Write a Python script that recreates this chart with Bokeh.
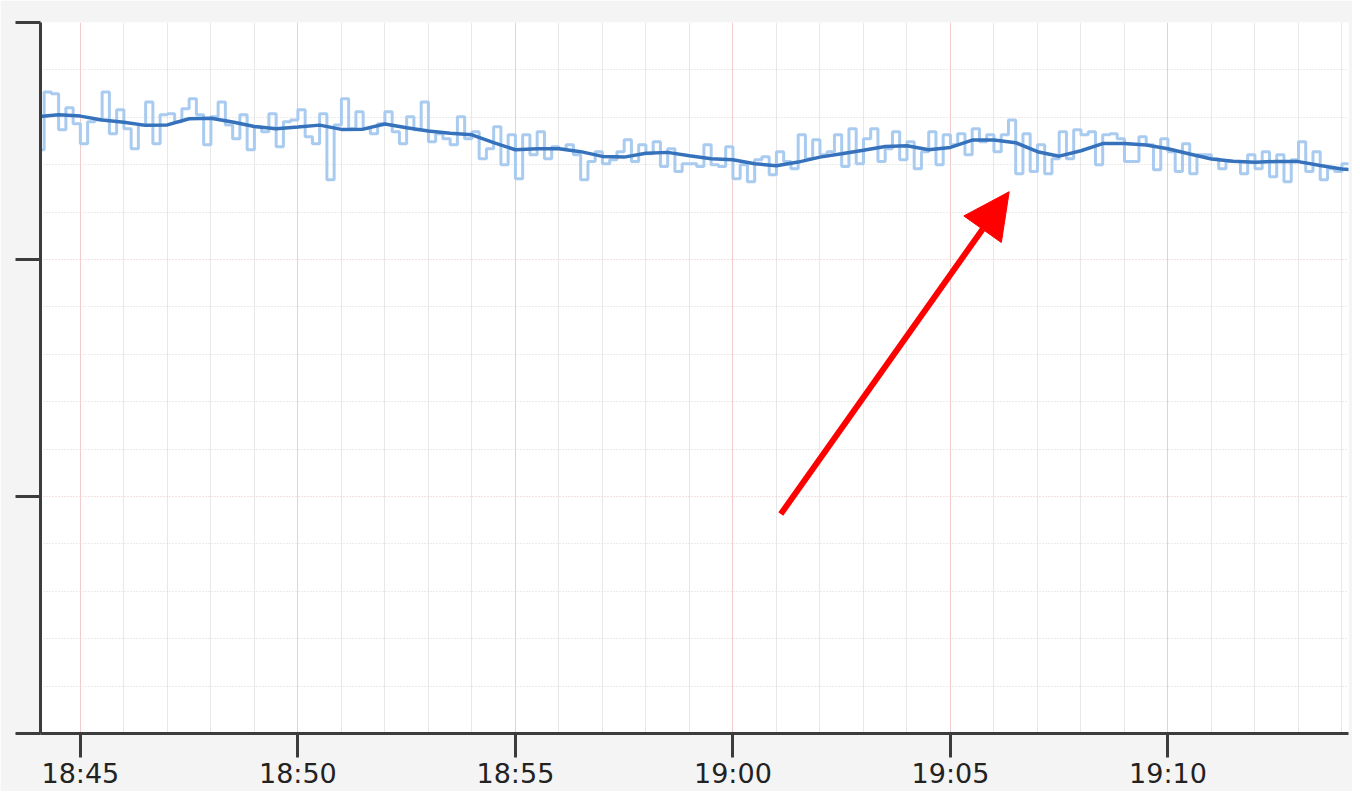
import pandas as pd
from bokeh.plotting import figure
from bokeh.models import FixedTicker, DatetimeTickFormatter, Range1d, Arrow, NormalHead, CustomJSTickFormatter
from bokeh.embed import file_html
from bokeh.resources import INLINE

DAY = "2024-01-01 "

# x-axis tick labels
tick_labels = ["18:45", "18:50", "18:55", "19:00", "19:05", "19:10"]
x_start, x_end = "18:44:05", "19:14:09"

# raw readings, one every 10 s starting 18:44:00
raw_start = "18:44:00"
raw_values = [
    24.63, 27.07, 26.99, 25.47, 26.40, 25.73, 24.88, 25.81, 25.89, 27.07,
    25.31, 26.32, 25.52, 24.67, 25.68, 26.65, 24.88, 26.11, 26.15, 25.81,
    26.36, 26.78, 26.11, 24.84, 26.02, 26.65, 25.68, 25.09, 26.11, 24.63,
    25.60, 25.39, 26.15, 24.76, 25.81, 25.89, 26.32, 25.18, 24.88, 26.15,
    23.37, 25.68, 26.78, 25.52, 26.23, 25.52, 25.31, 25.73, 26.23, 25.39,
    24.88, 26.02, 25.47, 26.65, 24.97, 25.31, 25.09, 24.84, 26.02, 25.09,
    25.39, 24.25, 24.67, 25.60, 24.00, 25.26, 23.41, 25.26, 24.42, 25.39,
    24.25, 24.76, 24.67, 24.84, 24.42, 23.37, 24.13, 24.55, 24.04, 24.21,
    24.55, 25.05, 24.13, 24.84, 24.46, 24.97, 23.92, 24.67, 23.71, 24.04,
    24.04, 23.92, 24.84, 24.00, 23.92, 24.76, 23.41, 24.00, 23.28, 24.21,
    24.34, 23.58, 24.55, 24.13, 23.83, 25.26, 24.25, 25.05, 24.42, 24.55,
    25.26, 23.92, 25.52, 24.04, 25.09, 25.52, 24.13, 24.67, 25.39, 24.21,
    24.97, 23.83, 24.55, 25.39, 24.00, 25.26, 24.84, 25.31, 24.42, 25.52,
    24.97, 25.26, 24.55, 25.26, 25.89, 23.62, 25.31, 23.71, 24.84, 23.62,
    24.25, 25.39, 24.25, 25.47, 25.26, 25.39, 24.00, 25.26, 25.31, 25.09,
    24.13, 24.13, 25.18, 24.84, 23.79, 25.09, 24.55, 23.71, 24.88, 23.62,
    24.42, 24.42, 24.25, 23.83, 24.13, 24.13, 23.62, 24.42, 23.83, 24.55,
    23.49, 24.42, 23.28, 24.21, 24.97, 23.71, 24.55, 23.37, 23.83, 23.71,
    24.04, 24.04,
]

# smoothed curve, one every 30 s starting 18:44:00
smooth_start = "18:44:00"
smooth_values = [
    26.02, 26.11, 26.05, 25.89, 25.79, 25.66, 25.68, 25.94, 25.96, 25.80,
    25.61, 25.52, 25.59, 25.67, 25.49, 25.50, 25.72, 25.56, 25.42, 25.33,
    25.26, 24.93, 24.63, 24.67, 24.67, 24.55, 24.35, 24.32, 24.48, 24.52,
    24.38, 24.25, 24.21, 24.04, 23.96, 24.11, 24.32, 24.46, 24.61, 24.77,
    24.80, 24.63, 24.73, 25.04, 25.04, 24.93, 24.55, 24.36, 24.59, 24.89,
    24.89, 24.83, 24.67, 24.45, 24.24, 24.15, 24.10, 24.14, 24.13, 23.97,
    23.82, 23.75,
]

# y axis (no labels shown)
y_ticks = [0, 10, 20, 30]
y_minor = [2, 4, 6, 8, 12, 14, 16, 18, 22, 24, 26, 28]

# annotation arrow (time, value)
arrow_from = ("19:01:06", 9.26)
arrow_to = ("19:06:21", 22.86)


def ts(s):
    return pd.Timestamp(DAY + s)


def ms(s):
    return ts(s).value / 1e6


raw_x = pd.date_range(ts(raw_start), periods=len(raw_values), freq="10s")
smooth_x = pd.date_range(ts(smooth_start), periods=len(smooth_values), freq="30s")

major_x = [ms(t) for t in tick_labels]
minor_x = [t.value / 1e6 for t in pd.date_range(ts("18:44:00"), ts("19:15:00"), freq="1min")]

p = figure(
    width=1352, height=791,
    x_axis_type="datetime",
    x_range=Range1d(ts(x_start), ts(x_end)),
    y_range=Range1d(0, 30),
    output_backend="svg", toolbar_location=None,
    min_border_left=40, min_border_right=4, min_border_top=22, min_border_bottom=58,
)
p.border_fill_color = "#f4f4f4"
p.background_fill_color = "white"
p.outline_line_color = None

# grids
p.xaxis.ticker = FixedTicker(ticks=major_x, minor_ticks=minor_x)
p.xgrid.grid_line_color = "#f2cccc"
p.xgrid.grid_line_width = 1
p.xgrid.minor_grid_line_color = "#e8e8e8"
p.xgrid.minor_grid_line_width = 1

p.yaxis.ticker = FixedTicker(ticks=y_ticks, minor_ticks=y_minor)
p.ygrid.grid_line_color = "#ecc2c2"
p.ygrid.grid_line_dash = "1 2"
p.ygrid.minor_grid_line_color = "#d6d6d6"
p.ygrid.minor_grid_line_dash = "1 2"

# axes
for ax in (p.xaxis, p.yaxis):
    ax.axis_line_width = 3
    ax.axis_line_color = "#3c3c3c"
    ax.major_tick_line_width = 3
    ax.major_tick_line_color = "#3c3c3c"
    ax.major_tick_in = 0
    ax.minor_tick_line_color = None

p.xaxis.major_tick_out = 24
p.xaxis.formatter = DatetimeTickFormatter(minutes="%H:%M", hours="%H:%M", minsec="%H:%M")
p.xaxis.major_label_text_font = "DejaVu Sans"
p.xaxis.major_label_text_font_size = "27px"
p.xaxis.major_label_text_color = "#222222"
p.xaxis.major_label_standoff = 0

p.yaxis.major_tick_out = 25
p.yaxis.formatter = CustomJSTickFormatter(code="return '';")
p.yaxis.major_label_text_font_size = "0px"
p.yaxis.major_label_standoff = 0

# data
p.step(raw_x, raw_values, mode="after", line_color="#a9cbef", line_width=3)
p.line(smooth_x, smooth_values, line_color="#3672bb", line_width=3.5)

# arrow
p.add_layout(Arrow(
    x_start=ms(arrow_from[0]), y_start=arrow_from[1],
    x_end=ms(arrow_to[0]), y_end=arrow_to[1],
    line_color="#ff0000", line_width=6,
    end=NormalHead(size=46, fill_color="#ff0000", line_color="#ff0000", line_width=1),
))

open("out.html", "w").write(file_html(p, INLINE))
